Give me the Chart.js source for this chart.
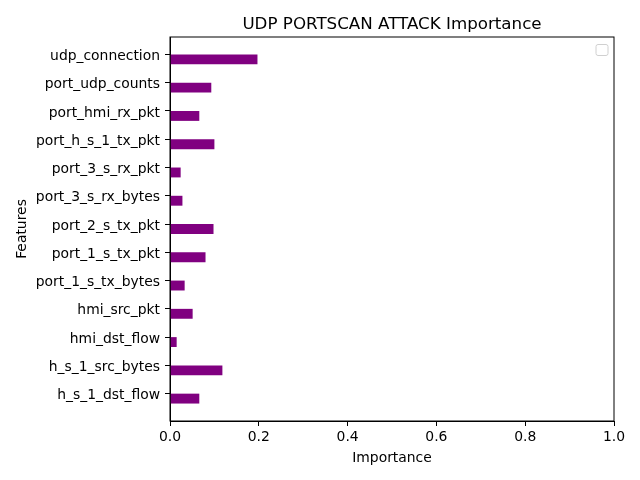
<!DOCTYPE html>
<html>
<head>
<meta charset="utf-8">
<script src="https://cdn.jsdelivr.net/npm/chart.js@4"></script>
<style>
  html, body { margin: 0; padding: 0; background: #fff; }
  #c { display: block; }
</style>
</head>
<body>
<canvas id="c" width="640" height="480"></canvas>
<script>
// Categories listed top to bottom as in the picture
const categories = [
  "udp_connection", "port_udp_counts", "port_hmi_rx_pkt", "port_h_s_1_tx_pkt",
  "port_3_s_rx_pkt", "port_3_s_rx_bytes", "port_2_s_tx_pkt", "port_1_s_tx_pkt",
  "port_1_s_tx_bytes", "hmi_src_pkt", "hmi_dst_flow", "h_s_1_src_bytes", "h_s_1_dst_flow"
];
const importance = [
  0.197, 0.093, 0.066, 0.100,
  0.024, 0.028, 0.098, 0.080,
  0.033, 0.051, 0.015, 0.118, 0.066
];
const xTicks = [0, 0.2, 0.4, 0.6, 0.8, 1.0];

const n = categories.length;
const barH = 0.35;
const points = importance.map((v, i) => ({ x: v, y: (n - 1 - i) - barH / 2 }));

const FONT = "'DejaVu Sans', sans-serif";

const framePlugin = {
  id: 'frame',
  afterDraw(chart) {
    const { ctx, chartArea: a } = chart;
    ctx.save();
    ctx.strokeStyle = '#000';
    ctx.lineWidth = 1;
    ctx.strokeRect(a.left, a.top, a.right - a.left, a.bottom - a.top);
    // title centred over axes
    ctx.fillStyle = '#000';
    ctx.font = "16.7px " + FONT;
    ctx.textAlign = 'center';
    ctx.textBaseline = 'alphabetic';
    ctx.fillText("UDP PORTSCAN ATTACK Importance", (a.left + a.right) / 2, 29);
    // empty legend frame
    const lx = a.right - 18, ly = a.top + 7.5, w = 12, h = 11, r = 2;
    ctx.strokeStyle = '#d0d0d0';
    ctx.fillStyle = 'rgba(255,255,255,0.8)';
    ctx.beginPath();
    ctx.roundRect(lx, ly, w, h, r);
    ctx.fill();
    ctx.stroke();
    ctx.restore();
  }
};

new Chart(document.getElementById('c'), {
  type: 'bar',
  data: {
    datasets: [{
      data: points,
      backgroundColor: '#800080',
      borderWidth: 0,
      barPercentage: barH,
      categoryPercentage: 1.0
    }]
  },
  options: {
    indexAxis: 'y',
    responsive: false,
    animation: false,
    devicePixelRatio: 1,
    layout: { padding: { left: 0, right: 26, top: 37, bottom: 0 } },
    plugins: { legend: { display: false }, tooltip: { enabled: false }, title: { display: false } },
    scales: {
      x: {
        type: 'linear',
        min: 0, max: 1,
        offset: false,
        afterBuildTicks: (axis) => { axis.ticks = xTicks.map(v => ({ value: v })); },
        afterFit: (axis) => { axis.height = 59; },
        ticks: {
          color: '#000',
          font: { family: FONT, size: 13.9 },
          padding: 3,
          maxRotation: 0,
          callback: (v) => Number(v).toFixed(1)
        },
        grid: { display: true, offset: false, drawOnChartArea: false, drawTicks: true, tickLength: 5, color: '#000' },
        border: { display: true, color: '#000', width: 1 },
        title: { display: true, text: 'Importance', color: '#000', font: { family: FONT, size: 13.9 }, padding: { top: 0, bottom: 13 } }
      },
      y: {
        type: 'linear',
        min: -0.9675, max: 12.6175,
        offset: false,
        afterBuildTicks: (axis) => { axis.ticks = categories.map((_, i) => ({ value: i })); },
        afterFit: (axis) => { axis.width = 170; },
        ticks: {
          color: '#000',
          font: { family: FONT, size: 13.9 },
          padding: 5,
          labelOffset: 2,
          autoSkip: false,
          callback: (v) => categories[n - 1 - Math.round(v)]
        },
        grid: { display: true, offset: false, drawOnChartArea: false, drawTicks: true, tickLength: 5, color: '#000' },
        border: { display: true, color: '#000', width: 1 },
        title: { display: true, text: 'Features', color: '#000', font: { family: FONT, size: 13.9 }, padding: { top: 14, bottom: 0 } }
      }
    }
  },
  plugins: [framePlugin]
});
</script>
</body>
</html>
